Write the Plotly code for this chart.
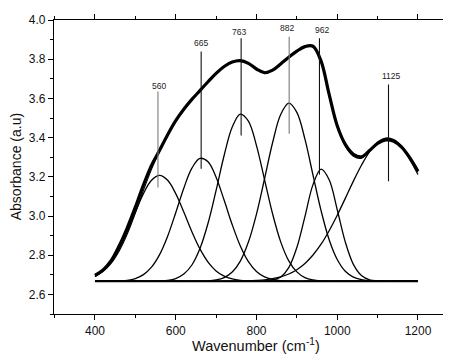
import plotly.graph_objects as go

# ---------------- data ----------------
wavenumber = [400, 420, 440, 460, 480, 500, 520, 540, 560, 580, 600, 620, 640, 660,
              680, 700, 720, 740, 760, 780, 800, 820, 840, 860, 880, 900, 920, 940,
              960, 980, 1000, 1020, 1040, 1060, 1080, 1100, 1120, 1140, 1160, 1180, 1200]

baseline_x = [400, 1200]
baseline_y = [2.667, 2.667]

peak_560 = [2.693, 2.720, 2.765, 2.832, 2.920, 3.020, 3.114, 3.182, 3.207, 3.182, 3.114,
            3.020, 2.920, 2.832, 2.765, 2.720, 2.693, 2.679, 2.672, 2.669,
            2.667, 2.667, 2.667, 2.667, 2.667, 2.667, 2.667, 2.667, 2.667, 2.667, 2.667,
            2.667, 2.667, 2.667, 2.667, 2.667, 2.667, 2.667, 2.667, 2.667, 2.667]

peak_665 = [2.667, 2.667, 2.668, 2.669, 2.672, 2.681, 2.701, 2.739, 2.803, 2.897, 3.017,
            3.142, 3.244, 3.294, 3.277, 3.198, 3.080, 2.955, 2.847, 2.767, 2.717, 2.689,
            2.676, 2.670, 2.668,
            2.667, 2.667, 2.667, 2.667, 2.667, 2.667, 2.667, 2.667, 2.667, 2.667, 2.667,
            2.667, 2.667, 2.667, 2.667, 2.667]

peak_763 = [2.667, 2.667, 2.667, 2.667, 2.667, 2.667, 2.667, 2.667,
            2.669, 2.672, 2.681, 2.704, 2.750, 2.834, 2.963, 3.131, 3.310, 3.454, 3.520,
            3.484, 3.359, 3.185, 3.010, 2.868, 2.771, 2.715, 2.686, 2.674, 2.669,
            2.667, 2.667, 2.667, 2.667, 2.667, 2.667, 2.667, 2.667, 2.667, 2.667, 2.667,
            2.667]

peak_882 = [2.667, 2.667, 2.667, 2.667, 2.667, 2.667, 2.667, 2.667, 2.667, 2.667, 2.667,
            2.667, 2.667,
            2.668, 2.669, 2.674, 2.686, 2.714, 2.770, 2.867, 3.010, 3.190, 3.375, 3.518,
            3.576, 3.529, 3.392, 3.209, 3.027, 2.879, 2.778, 2.718, 2.688, 2.675, 2.670,
            2.668,
            2.667, 2.667, 2.667, 2.667, 2.667]

peak_962 = [2.667, 2.667, 2.667, 2.667, 2.667, 2.667, 2.667, 2.667, 2.667, 2.667, 2.667,
            2.667, 2.667, 2.667, 2.667, 2.667, 2.667, 2.667, 2.667, 2.667, 2.667,
            2.668, 2.673, 2.689, 2.737, 2.839, 2.997, 3.160, 3.239, 3.185, 3.032, 2.867,
            2.753, 2.696, 2.674, 2.669,
            2.667, 2.667, 2.667, 2.667, 2.667]

peak_1125 = [2.667, 2.667, 2.667, 2.667, 2.667, 2.667, 2.667, 2.667, 2.667, 2.667, 2.667,
             2.667, 2.667, 2.667, 2.667,
             2.667, 2.667, 2.668, 2.668, 2.669, 2.671, 2.674, 2.680, 2.689, 2.704, 2.726,
             2.758, 2.801, 2.856, 2.925, 3.004, 3.090, 3.178, 3.259, 3.327, 3.373, 3.393,
             3.385, 3.348, 3.288, 3.212]

fitted = [2.690, 2.716, 2.758, 2.822, 2.908, 3.015, 3.130, 3.238, 3.330, 3.413, 3.486,
          3.545, 3.595, 3.640, 3.685, 3.728, 3.763, 3.786, 3.793, 3.779, 3.750, 3.731,
          3.744, 3.776, 3.810, 3.841, 3.864, 3.866, 3.790, 3.620, 3.460, 3.356, 3.305,
          3.295, 3.335, 3.378, 3.398, 3.390, 3.356, 3.298, 3.225]

measured = [2.697, 2.725, 2.772, 2.848, 2.940, 3.045, 3.158, 3.258, 3.335, 3.415, 3.487,
            3.545, 3.595, 3.640, 3.685, 3.728, 3.763, 3.786, 3.793, 3.779, 3.750, 3.731,
            3.744, 3.776, 3.810, 3.841, 3.864, 3.866, 3.790, 3.620, 3.460, 3.365, 3.315,
            3.302, 3.334, 3.370, 3.388, 3.381, 3.350, 3.296, 3.228]

marker_labels = ["560", "665", "763", "882", "962", "1125"]
marker_x = [556, 663, 762, 881, 956, 1127]
marker_bottom = [3.145, 3.241, 3.411, 3.420, 3.211, 3.177]
marker_top = [3.635, 3.839, 3.907, 3.915, 3.907, 3.671]
marker_colors = ["#7a7a7a", "#111111", "#111111", "#7a7a7a", "#111111", "#111111"]
label_x = [558, 662, 756, 876, 963, 1134]
label_y = [3.664, 3.883, 3.940, 3.959, 3.951, 3.715]

x_ticks = [400, 600, 800, 1000, 1200]
y_ticks = [2.6, 2.8, 3.0, 3.2, 3.4, 3.6, 3.8, 4.0]

x_title = "Wavenumber (cm<sup>-1</sup>)"
y_title = "Absorbance (a.u)"

# ---------------- figure ----------------
FONT = "Liberation Sans, Arial, sans-serif"
fig = go.Figure()

for comp in [peak_560, peak_665, peak_763, peak_882, peak_962, peak_1125]:
    fig.add_trace(go.Scatter(x=wavenumber, y=comp, mode="lines",
                             line=dict(color="#000000", width=1.3, shape="spline"),
                             showlegend=False, hoverinfo="skip"))

fig.add_trace(go.Scatter(x=baseline_x, y=baseline_y, mode="lines",
                         line=dict(color="#000000", width=2.2),
                         showlegend=False, hoverinfo="skip"))

fig.add_trace(go.Scatter(x=wavenumber, y=fitted, mode="lines",
                         line=dict(color="#000000", width=1.1, shape="spline"),
                         showlegend=False, hoverinfo="skip"))

fig.add_trace(go.Scatter(x=wavenumber, y=measured, mode="lines",
                         line=dict(color="#000000", width=3.2, shape="spline"),
                         showlegend=False, hoverinfo="skip"))

for xv, yb, yt, col in zip(marker_x, marker_bottom, marker_top, marker_colors):
    fig.add_trace(go.Scatter(x=[xv, xv], y=[yb, yt], mode="lines",
                             line=dict(color=col, width=1.1),
                             showlegend=False, hoverinfo="skip"))

for lab, lx, ly in zip(marker_labels, label_x, label_y):
    fig.add_annotation(x=lx, y=ly, text=lab, showarrow=False,
                       font=dict(family=FONT, size=8.5, color="#222222"),
                       xanchor="center", yanchor="middle")

# axis titles placed as paper-anchored annotations
fig.add_annotation(x=0.509, y=-0.105, xref="paper", yref="paper", text=x_title,
                   showarrow=False, xanchor="center", yanchor="middle",
                   font=dict(family=FONT, size=14.5, color="#111111"))
fig.add_annotation(x=-0.095, y=0.5, xref="paper", yref="paper", text=y_title,
                   showarrow=False, xanchor="center", yanchor="middle", textangle=-90,
                   font=dict(family=FONT, size=14, color="#111111"))

# the page body adds an 8px offset, so the margins are shifted to compensate
fig.update_layout(
    width=451, height=356,
    margin=dict(l=46, r=8, t=12, b=50, autoexpand=False),
    paper_bgcolor="white", plot_bgcolor="white",
    font=dict(family=FONT, color="#111111"),
    showlegend=False,
)

fig.update_xaxes(
    range=[298.5, 1281.8], automargin=False,
    tickmode="array", tickvals=x_ticks, ticktext=[str(v) for v in x_ticks],
    ticks="outside", ticklen=5, tickwidth=1, tickcolor="#000000",
    minor=dict(ticks="outside", ticklen=3, dtick=100, tick0=300, tickcolor="#000000"),
    showline=True, linecolor="#000000", linewidth=1.2, mirror="ticks",
    showgrid=False, zeroline=False,
    tickfont=dict(family=FONT, size=12, color="#111111"),
)

fig.update_yaxes(
    range=[2.5, 4.0], automargin=False,
    tickmode="array", tickvals=y_ticks, ticktext=["%.1f" % v for v in y_ticks],
    ticks="outside", ticklen=5, tickwidth=1, tickcolor="#000000",
    minor=dict(ticks="outside", ticklen=3, dtick=0.1, tick0=2.5, tickcolor="#000000"),
    showline=True, linecolor="#000000", linewidth=1.2, mirror=False,
    showgrid=False, zeroline=False,
    tickfont=dict(family=FONT, size=12, color="#111111"),
)

fig.write_html("out.html")
